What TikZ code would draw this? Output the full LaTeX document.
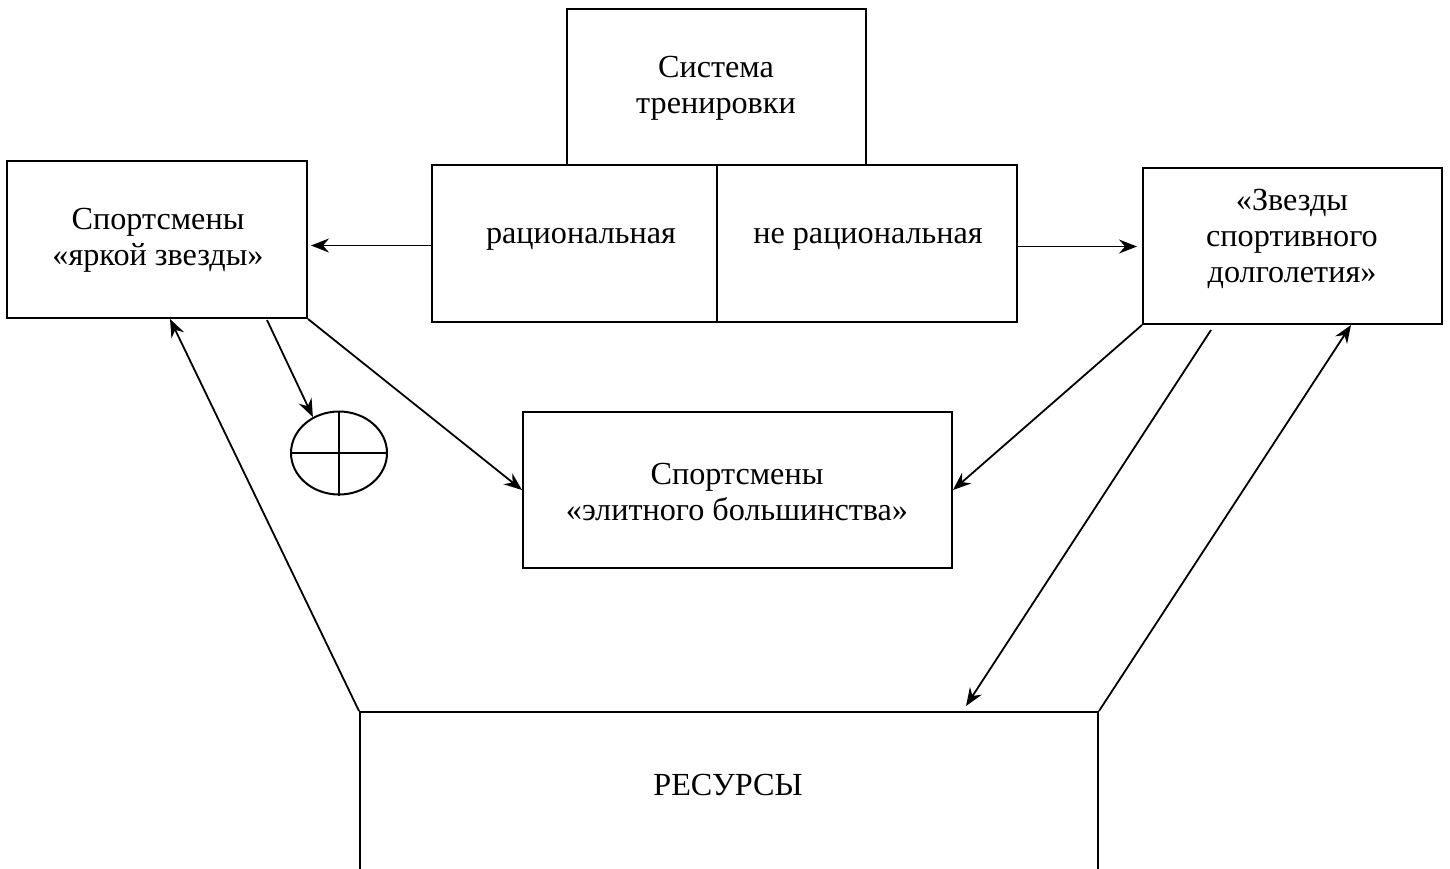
\documentclass[tikz,border=0pt]{standalone}
\usepackage{fontspec}
\setmainfont{Liberation Serif}
\usetikzlibrary{arrows.meta,shapes.geometric,calc,fit}
\begin{document}
\begin{tikzpicture}[x=0.5pt,y=-0.5pt,
  line width=1pt,
  box/.style={draw, line width=1pt, inner sep=0pt, rectangle},
  txt/.style={font=\fontsize{16.1}{18.2}\selectfont, align=center, inner sep=0pt},
  arr/.style={-{Stealth[length=9pt,width=7pt,inset=3pt]}, line width=0.9pt}]
\clip (0,0) rectangle (1450,868);
\fill[white] (0,0) rectangle (1450,868);
% boxes
\node[box, fit={(567,9) (866,165)}] (sys) {};
\node[box, fit={(432,165) (717,322)}] (rat) {};
\node[box, fit={(717,165) (1017,322)}] (nonrat) {};
\node[box, fit={(7,161) (307,318)}] (bright) {};
\node[box, fit={(1143,168) (1442,324)}] (long) {};
\node[box, fit={(523,412) (952,568)}] (mid) {};
\node[box, fit={(360,712) (1098,890)}] (res) {};
\node[draw, ellipse, line width=1pt, minimum width=48pt, minimum height=41.5pt, inner sep=0pt] (circ) at (339,453) {};
\draw[line width=1pt] (circ.north) -- (circ.south) (circ.west) -- (circ.east);
% texts
\node[txt] (tsys) at (716,88) {Система\\тренировки};
\node[txt, anchor=base] (trat) at (581,243) {рациональная};
\node[txt, anchor=base] (tnonrat) at (868,243) {не рациональная};
\node[txt] (tbright) at (158,240) {Спортсмены\\«яркой звезды»};
\node[txt] (tlong) at (1292,239) {«Звезды\\спортивного\\долголетия»};
\node[txt] (tmid) at (737,492) {Спортсмены\\«элитного большинства»};
\node[txt, anchor=base] (tres) at (728,795) {РЕСУРСЫ};
% connectors
\draw[arr] ($(rat.west)+(0,2)$) -- ($(rat.west -| bright.east)+(3,2)$);
\draw[arr] ($(nonrat.east)+(0,3)$) -- ($(nonrat.east -| long.west)+(-5,3)$);
\draw[arr] ($(bright.south east)+(-41,1)$) -- (circ.126);
\draw[arr] (bright.south east) -- (mid.west);
\draw[arr] (long.south west) -- (mid.east);
\draw[arr] ($(long.south west)+(69,5)$) -- ($(res.north west)+(607,-5)$);
\draw[arr] (res.north east) -- ($(long.south west)+(209,0)$);
\draw[arr] (res.north west) -- ($(bright.south west)+(164,0)$);
\end{tikzpicture}
\end{document}
